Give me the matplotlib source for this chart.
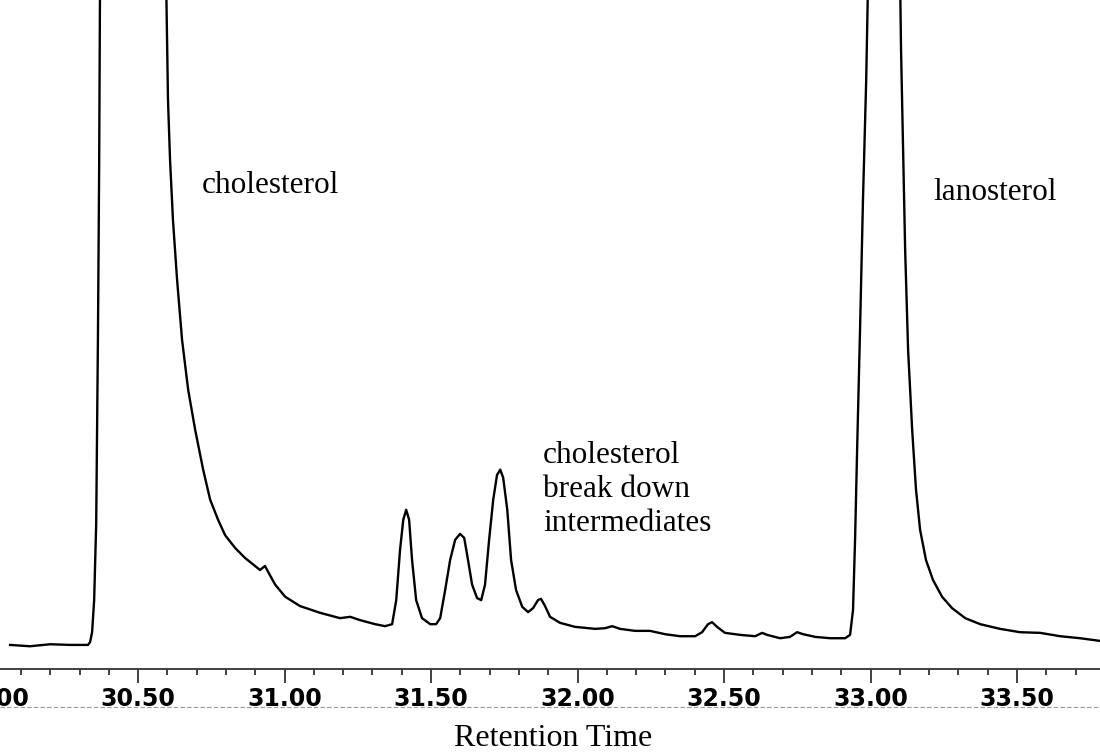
import matplotlib
matplotlib.use('Agg')
import matplotlib.pyplot as plt
from matplotlib.lines import Line2D
from matplotlib.ticker import MultipleLocator, FormatStrFormatter

# retention time (min) and detector signal (arbitrary units)
rt = [30.063, 30.131, 30.200, 30.268, 30.329, 30.336, 30.343, 30.350, 30.357, 30.360,
      30.363, 30.367, 30.370, 30.483,
      30.596, 30.602, 30.609, 30.619, 30.633, 30.650, 30.671, 30.695, 30.722, 30.746,
      30.773, 30.797, 30.831, 30.865, 30.899, 30.916, 30.933, 30.944, 30.968, 31.002,
      31.053, 31.121, 31.189, 31.224, 31.258, 31.309, 31.343, 31.367, 31.381, 31.394,
      31.405, 31.415, 31.425, 31.435, 31.449, 31.469, 31.497, 31.517, 31.531, 31.548,
      31.565, 31.582, 31.599, 31.613, 31.626, 31.640, 31.657, 31.671, 31.684, 31.698,
      31.712, 31.725, 31.736, 31.746, 31.760, 31.773, 31.790, 31.811, 31.831, 31.848,
      31.865, 31.875, 31.889, 31.906, 31.940, 31.991, 32.060, 32.094, 32.118, 32.145,
      32.196, 32.247, 32.299, 32.350, 32.401, 32.425, 32.445, 32.459, 32.476, 32.503,
      32.555, 32.606, 32.630, 32.647, 32.691, 32.725, 32.749, 32.770, 32.811, 32.862,
      32.913, 32.930, 32.940, 32.947, 32.954, 32.964, 32.974, 32.985, 32.991, 33.046,
      33.101, 33.104, 33.111, 33.118, 33.128, 33.142, 33.155, 33.169, 33.189, 33.213,
      33.244, 33.278, 33.323, 33.374, 33.442, 33.510, 33.579, 33.647, 33.715, 33.783]
signal = [3.6, 3.4, 3.7, 3.6, 3.6, 4.0, 5.5, 10.3, 21.8, 35.7,
          49.9, 74.6, 102.0, 260.0,
          102.0, 85.1, 76.1, 67.1, 58.2, 49.2, 41.7, 35.7, 29.8, 25.3,
          22.3, 20.0, 18.1, 16.6, 15.4, 14.8, 15.4, 14.5, 12.6, 10.8,
          9.4, 8.4, 7.6, 7.8, 7.3, 6.7, 6.4, 6.7, 10.3, 17.8,
          22.3, 23.8, 22.3, 16.3, 10.3, 7.6, 6.7, 6.7, 7.6, 11.8,
          16.3, 19.3, 20.2, 19.6, 16.3, 12.6, 10.6, 10.3, 12.6, 19.3,
          25.3, 29.0, 29.8, 28.6, 23.8, 16.3, 11.8, 9.3, 8.5, 9.1,
          10.3, 10.5, 9.4, 7.8, 6.9, 6.3, 6.0, 6.1, 6.4, 6.0,
          5.7, 5.7, 5.2, 4.9, 4.9, 5.5, 6.7, 7.0, 6.3, 5.4,
          5.1, 4.9, 5.4, 5.1, 4.6, 4.8, 5.5, 5.2, 4.8, 4.6,
          4.6, 5.1, 8.8, 19.3, 32.7, 50.7, 70.1, 88.0, 102.0, 240.0,
          102.0, 92.5, 77.6, 62.6, 47.7, 35.7, 26.8, 20.8, 16.3, 13.3,
          10.8, 9.1, 7.6, 6.7, 6.0, 5.5, 5.4, 4.9, 4.6, 4.2]

peak_names = ['cholesterol', 'lanosterol', 'cholesterol\nbreak down\nintermediates']
peak_label_rt = [30.718, 33.213, 31.882]
peak_label_sig = [72.3, 71.3, 26.8]

fig = plt.figure(figsize=(11, 7.55), dpi=100)
# axes run a little past the left edge so the clipped 30.00 label shows
ax = fig.add_axes([-50 / 1100, 86 / 755, 1150 / 1100, 669 / 755])

ax.plot(rt, signal, color='black', lw=1.7)
ax.set_xlim(29.858, 33.783)
ax.set_ylim(0, 100)

for name, x, y in zip(peak_names, peak_label_rt, peak_label_sig):
    ax.text(x, y, name, family='Liberation Serif', fontsize=22.5,
            ha='left', va='center', linespacing=1.22)

for s in ['top', 'left', 'right']:
    ax.spines[s].set_visible(False)
ax.spines['bottom'].set_color('#333333')
ax.spines['bottom'].set_linewidth(1.3)
ax.set_yticks([])

ax.xaxis.set_major_locator(MultipleLocator(0.5))
ax.xaxis.set_minor_locator(MultipleLocator(0.1))
ax.xaxis.set_major_formatter(FormatStrFormatter('%.2f'))
ax.tick_params(axis='x', which='major', length=10, width=1.3, color='#333333',
               pad=3, labelsize=17)
ax.tick_params(axis='x', which='minor', length=4, width=1.3, color='#333333')
for lab in ax.get_xticklabels():
    lab.set_fontfamily('DejaVu Sans')
    lab.set_fontweight('bold')

ax.set_xlabel('Retention Time', family='Liberation Serif', fontsize=23)
ax.xaxis.set_label_coords(603 / 1150, -69 / 669)
ax.xaxis.label.set_va('center')

# faint dashed rule under the scale
fig.add_artist(Line2D([0, 1], [1 - 707 / 755] * 2, transform=fig.transFigure,
                      color='#999999', lw=0.8, ls=(0, (4, 2))))

fig.savefig('out.png', dpi=100)
